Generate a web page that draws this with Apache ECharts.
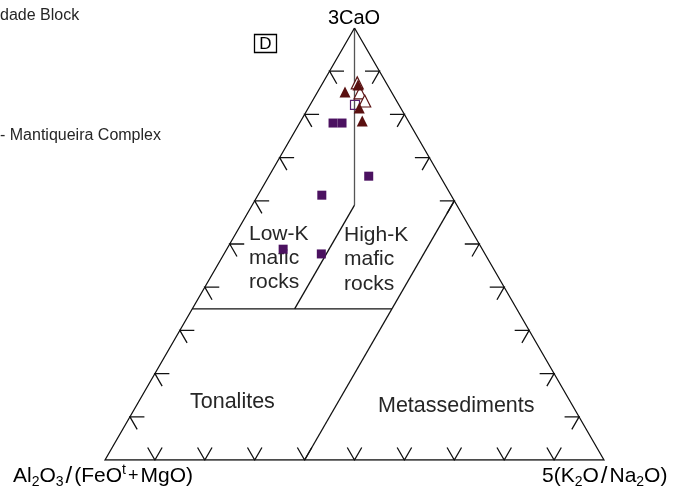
<!DOCTYPE html>
<html><head><meta charset="utf-8">
<script src="https://cdn.jsdelivr.net/npm/echarts@6/dist/echarts.min.js"></script>
<style>html,body{margin:0;padding:0;background:#fff}#c{width:676px;height:496px}</style>
</head><body><div id="c"></div>
<script>
// Ternary values in %: [3CaO, 5(K2O/Na2O), Al2O3/(FeOt+MgO)]
const squaresFilled = [[78.0,6.7,15.3],[78.0,8.5,13.5],[65.7,20.0,14.3],[61.3,12.8,25.9],[48.8,11.3,39.9],[47.7,19.5,32.8]];
const squaresOpen = [[82.2,9.0,8.8]];
const trianglesFilled = [[86.8,7.3,5.9],[85.2,5.5,9.3],[81.5,10.2,8.3],[78.5,12.3,9.2]];
const trianglesOpen = [[87.3,6.9,5.8],[85.0,8.6,6.4],[83.1,10.5,6.4]];
const frame = [[100,0,0],[0,0,100],[0,100,0],[100,0,0]];
const centerLine = [[100,0,0],[59,20.5,20.5]];
const fieldBoundaries = [
  [[59,20.5,20.5],[35,20.5,44.5]],
  [[35,0,65],[35,40,25]],
  [[0,40,60],[60,40,0]]
];
const tickValues = [10,20,30,40,50,60,70,80,90];
const fieldLabels = ['Low-K\nmafic\nrocks','High-K\nmafic\nrocks','Tonalites','Metassediments'];

const S3 = Math.sqrt(3)/2;
function toXY(p){ const c=p[0]/100, b=p[1]/100; return [b + c/2, c*S3]; }
function add(P, L, dx, dy){ return [P[0]+L*dx, P[1]+L*dy]; }

const L = 0.029;
const tickLines = [];
tickValues.forEach(t => {
  const Pb = toXY([0, t, 100-t]);
  tickLines.push({coords:[add(Pb,L,-0.5,S3), Pb, add(Pb,L,0.5,S3)]});
  const Pl = toXY([t, 0, 100-t]);
  tickLines.push({coords:[add(Pl,L,1,0), Pl, add(Pl,L,0.5,-S3)]});
  const Pr = toXY([t, 100-t, 0]);
  tickLines.push({coords:[add(Pr,L,-1,0), Pr, add(Pr,L,-0.5,-S3)]});
});

const FONT = "'Liberation Sans', Arial, Helvetica, sans-serif";
function txt(x, y, text, size, opts){
  opts = opts || {};
  return {type:'text', x:x, y:y, silent:true, style:{
    text:text, fontSize:size, fontFamily:FONT, fill:opts.fill||'#262626',
    align:opts.align||'left', textAlign:opts.align||'left',
    verticalAlign:'middle', textVerticalAlign:'middle', lineHeight:opts.lh
  }};
}

const chart = echarts.init(document.getElementById('c'), null, {renderer:'canvas'});
const richMain = {fontSize:21, lineHeight:26, fontFamily:FONT, fill:'#000'};
const richSub = {fontSize:14, lineHeight:14, fontFamily:FONT, verticalAlign:'bottom', fill:'#000'};
const richSup = {fontSize:14, lineHeight:14, fontFamily:FONT, verticalAlign:'top', fill:'#000'};
const richSlash = {fontSize:24, lineHeight:26, fontFamily:FONT, fill:'#000', padding:[0,2,0,2]};
const richPlus = {fontSize:18, lineHeight:26, fontFamily:FONT, fill:'#000', padding:[0,2,0,2]};
const rich = {m:richMain, s:richSub, p:richSup, sl:richSlash, pl:richPlus};

chart.setOption({
  animation:false,
  grid:{left:105, top:28, width:499, height:432},
  xAxis:{type:'value', min:0, max:1, show:false},
  yAxis:{type:'value', min:0, max:S3, show:false},
  series:[
    {type:'lines', coordinateSystem:'cartesian2d', polyline:true, silent:true, z:1,
      lineStyle:{color:'#555', width:1.3, opacity:1},
      data:[{coords:centerLine.map(toXY)}]},
    {type:'lines', coordinateSystem:'cartesian2d', polyline:true, silent:true, z:1,
      lineStyle:{color:'#111', width:1.3, opacity:1},
      data:[{coords:frame.map(toXY)}].concat(fieldBoundaries.map(s=>({coords:s.map(toXY)}))).concat(tickLines)},
    {type:'scatter', symbol:'rect', symbolSize:9, z:3, silent:true,
      itemStyle:{color:'#4b1160', opacity:1}, data:squaresFilled.map(toXY)},
    {type:'scatter', symbol:'rect', symbolSize:9, z:3, silent:true,
      itemStyle:{color:'rgba(255,255,255,0)', borderColor:'#5a2070', borderWidth:1.2, opacity:1}, data:squaresOpen.map(toXY)},
    {type:'scatter', symbol:'triangle', symbolSize:12, z:3, silent:true,
      itemStyle:{color:'#ffffff', borderColor:'#5b1414', borderWidth:1.2, opacity:1}, data:trianglesOpen.map(toXY)},
    {type:'scatter', symbol:'triangle', symbolSize:11, z:4, silent:true,
      itemStyle:{color:'#5a1010', opacity:1}, data:trianglesFilled.map(toXY)}
  ],
  graphic:[
    txt(0, 16, 'dade Block', 16),
    txt(0, 136, '- Mantiqueira Complex', 16),
    txt(354, 18, '3CaO', 20, {align:'center', fill:'#000'}),
    {type:'rect', silent:true, shape:{x:254.5, y:34.5, width:22, height:18}, style:{fill:'none', stroke:'#000', lineWidth:1.3}},
    txt(265.5, 44, 'D', 17, {align:'center', fill:'#000'}),
    txt(249, 258.5, fieldLabels[0], 21, {lh:24}),
    txt(344, 259.5, fieldLabels[1], 21, {lh:24.5}),
    txt(190, 402.5, fieldLabels[2], 21.5),
    txt(378, 406.5, fieldLabels[3], 21.5),
    {type:'text', x:13, y:476, silent:true, style:{
      text:'{m|Al}{s|2}{m|O}{s|3}{sl|/}{m|(FeO}{p|t}{pl|+}{m|MgO)}',
      align:'left', textAlign:'left', verticalAlign:'middle', textVerticalAlign:'middle',
      fontSize:21, fontFamily:FONT, fill:'#000', rich:rich}},
    {type:'text', x:542, y:476, silent:true, style:{
      text:'{m|5(K}{s|2}{m|O}{sl|/}{m|Na}{s|2}{m|O)}',
      align:'left', textAlign:'left', verticalAlign:'middle', textVerticalAlign:'middle',
      fontSize:21, fontFamily:FONT, fill:'#000', rich:rich}}
  ]
});
</script></body></html>
